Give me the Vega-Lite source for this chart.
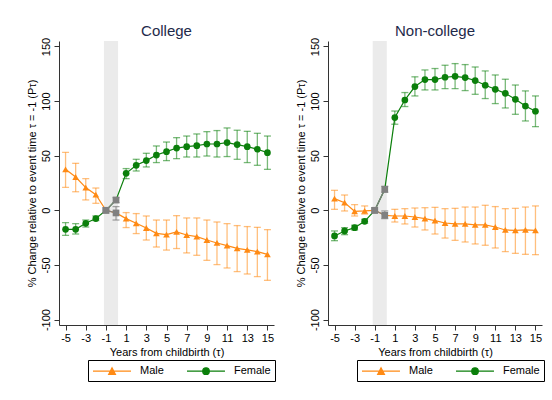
{
  "$schema": "https://vega.github.io/schema/vega-lite/v6.json",
  "padding": {"left": 25, "top": 24, "right": 5, "bottom": 5},
  "datasets": {
    "est": [
      {"panel": "College", "sex": "Male", "t": -5, "est": 37.5, "lo": 21, "hi": 53},
      {"panel": "College", "sex": "Male", "t": -4, "est": 30.5, "lo": 17, "hi": 43},
      {"panel": "College", "sex": "Male", "t": -3, "est": 20.8, "lo": 9.5, "hi": 29},
      {"panel": "College", "sex": "Male", "t": -2, "est": 14.3, "lo": 6.4, "hi": 20.4},
      {"panel": "College", "sex": "Male", "t": -1, "est": 0, "lo": 0, "hi": 0},
      {"panel": "College", "sex": "Male", "t": 0, "est": -2.4, "lo": -8.9, "hi": 3.4},
      {"panel": "College", "sex": "Male", "t": 1, "est": -7.6, "lo": -15.8, "hi": -2.1},
      {"panel": "College", "sex": "Male", "t": 2, "est": -11.9, "lo": -21.3, "hi": -3},
      {"panel": "College", "sex": "Male", "t": 3, "est": -16.2, "lo": -27.2, "hi": -5.2},
      {"panel": "College", "sex": "Male", "t": 4, "est": -21.1, "lo": -33.6, "hi": -8.9},
      {"panel": "College", "sex": "Male", "t": 5, "est": -22.3, "lo": -36.4, "hi": -8.9},
      {"panel": "College", "sex": "Male", "t": 6, "est": -19.8, "lo": -35, "hi": -4.9},
      {"panel": "College", "sex": "Male", "t": 7, "est": -22.6, "lo": -39, "hi": -7},
      {"panel": "College", "sex": "Male", "t": 8, "est": -24.1, "lo": -41.2, "hi": -7},
      {"panel": "College", "sex": "Male", "t": 9, "est": -27.2, "lo": -45.8, "hi": -8.9},
      {"panel": "College", "sex": "Male", "t": 10, "est": -29.9, "lo": -49.7, "hi": -10.7},
      {"panel": "College", "sex": "Male", "t": 11, "est": -32.4, "lo": -52.8, "hi": -12.2},
      {"panel": "College", "sex": "Male", "t": 12, "est": -34.8, "lo": -56.1, "hi": -14},
      {"panel": "College", "sex": "Male", "t": 13, "est": -36.3, "lo": -58.3, "hi": -14.9},
      {"panel": "College", "sex": "Male", "t": 14, "est": -37.8, "lo": -60.7, "hi": -15.6},
      {"panel": "College", "sex": "Male", "t": 15, "est": -40.3, "lo": -64.1, "hi": -17.7},
      {"panel": "College", "sex": "Female", "t": -5, "est": -17.4, "lo": -22.9, "hi": -11.3},
      {"panel": "College", "sex": "Female", "t": -4, "est": -17.4, "lo": -21.7, "hi": -12.2},
      {"panel": "College", "sex": "Female", "t": -3, "est": -11.9, "lo": -15.3, "hi": -8.9},
      {"panel": "College", "sex": "Female", "t": -2, "est": -7.6, "lo": -9.4, "hi": -5.2},
      {"panel": "College", "sex": "Female", "t": -1, "est": 0, "lo": 0, "hi": 0},
      {"panel": "College", "sex": "Female", "t": 0, "est": 9.5, "lo": 7, "hi": 11.6},
      {"panel": "College", "sex": "Female", "t": 1, "est": 33.9, "lo": 29, "hi": 38.2},
      {"panel": "College", "sex": "Female", "t": 2, "est": 41.2, "lo": 36, "hi": 46.7},
      {"panel": "College", "sex": "Female", "t": 3, "est": 45.5, "lo": 39.7, "hi": 52.2},
      {"panel": "College", "sex": "Female", "t": 4, "est": 50.6, "lo": 43.7, "hi": 58.9},
      {"panel": "College", "sex": "Female", "t": 5, "est": 53.7, "lo": 45.5, "hi": 62.5},
      {"panel": "College", "sex": "Female", "t": 6, "est": 57, "lo": 47.3, "hi": 66.5},
      {"panel": "College", "sex": "Female", "t": 7, "est": 58.3, "lo": 48.8, "hi": 68},
      {"panel": "College", "sex": "Female", "t": 8, "est": 59.2, "lo": 48.8, "hi": 69.9},
      {"panel": "College", "sex": "Female", "t": 9, "est": 60.7, "lo": 49.7, "hi": 72},
      {"panel": "College", "sex": "Female", "t": 10, "est": 60.7, "lo": 48.8, "hi": 73},
      {"panel": "College", "sex": "Female", "t": 11, "est": 62, "lo": 49.2, "hi": 75.4},
      {"panel": "College", "sex": "Female", "t": 12, "est": 60.2, "lo": 46.7, "hi": 73.3},
      {"panel": "College", "sex": "Female", "t": 13, "est": 58.3, "lo": 43.7, "hi": 72.3},
      {"panel": "College", "sex": "Female", "t": 14, "est": 55.9, "lo": 41.2, "hi": 70.5},
      {"panel": "College", "sex": "Female", "t": 15, "est": 52.8, "lo": 37.5, "hi": 68},
      {"panel": "Non-college", "sex": "Male", "t": -5, "est": 10.7, "lo": 0.9, "hi": 18.3},
      {"panel": "Non-college", "sex": "Male", "t": -4, "est": 7, "lo": -0.6, "hi": 14},
      {"panel": "Non-college", "sex": "Male", "t": -3, "est": -0.9, "lo": -5.2, "hi": 5.2},
      {"panel": "Non-college", "sex": "Male", "t": -2, "est": -0.6, "lo": -3.4, "hi": 4},
      {"panel": "Non-college", "sex": "Male", "t": -1, "est": 0, "lo": 0, "hi": 0},
      {"panel": "Non-college", "sex": "Male", "t": 0, "est": -4.6, "lo": -7.6, "hi": -0.6},
      {"panel": "Non-college", "sex": "Male", "t": 1, "est": -5.2, "lo": -10.7, "hi": 0.9},
      {"panel": "Non-college", "sex": "Male", "t": 2, "est": -5.2, "lo": -12.5, "hi": 1.5},
      {"panel": "Non-college", "sex": "Male", "t": 3, "est": -6.1, "lo": -15.3, "hi": 2.1},
      {"panel": "Non-college", "sex": "Male", "t": 4, "est": -7.6, "lo": -18, "hi": 2.4},
      {"panel": "Non-college", "sex": "Male", "t": 5, "est": -9.4, "lo": -21.7, "hi": 2.7},
      {"panel": "Non-college", "sex": "Male", "t": 6, "est": -11.6, "lo": -25.4, "hi": 1.5},
      {"panel": "Non-college", "sex": "Male", "t": 7, "est": -12.5, "lo": -27.5, "hi": 1.8},
      {"panel": "Non-college", "sex": "Male", "t": 8, "est": -12.5, "lo": -29, "hi": 3},
      {"panel": "Non-college", "sex": "Male", "t": 9, "est": -13.4, "lo": -30.8, "hi": 3},
      {"panel": "Non-college", "sex": "Male", "t": 10, "est": -13.4, "lo": -32, "hi": 4.6},
      {"panel": "Non-college", "sex": "Male", "t": 11, "est": -15.3, "lo": -34.5, "hi": 3.4},
      {"panel": "Non-college", "sex": "Male", "t": 12, "est": -18, "lo": -37.8, "hi": 1.5},
      {"panel": "Non-college", "sex": "Male", "t": 13, "est": -18.3, "lo": -39.4, "hi": 1.8},
      {"panel": "Non-college", "sex": "Male", "t": 14, "est": -18, "lo": -40.3, "hi": 3},
      {"panel": "Non-college", "sex": "Male", "t": 15, "est": -18.3, "lo": -40.6, "hi": 4},
      {"panel": "Non-college", "sex": "Female", "t": -5, "est": -23.5, "lo": -27.8, "hi": -18.9},
      {"panel": "Non-college", "sex": "Female", "t": -4, "est": -18.9, "lo": -22.3, "hi": -15.9},
      {"panel": "Non-college", "sex": "Female", "t": -3, "est": -15.9, "lo": -18, "hi": -13.7},
      {"panel": "Non-college", "sex": "Female", "t": -2, "est": -10.1, "lo": -11.9, "hi": -8.2},
      {"panel": "Non-college", "sex": "Female", "t": -1, "est": 0, "lo": 0, "hi": 0},
      {"panel": "Non-college", "sex": "Female", "t": 0, "est": 19.2, "lo": 16.5, "hi": 22},
      {"panel": "Non-college", "sex": "Female", "t": 1, "est": 84.9, "lo": 78.8, "hi": 90.9},
      {"panel": "Non-college", "sex": "Female", "t": 2, "est": 101, "lo": 95, "hi": 107.8},
      {"panel": "Non-college", "sex": "Female", "t": 3, "est": 113.3, "lo": 104.7, "hi": 122.2},
      {"panel": "Non-college", "sex": "Female", "t": 4, "est": 119.7, "lo": 110.2, "hi": 128.5},
      {"panel": "Non-college", "sex": "Female", "t": 5, "est": 119.7, "lo": 110.2, "hi": 129.8},
      {"panel": "Non-college", "sex": "Female", "t": 6, "est": 121.8, "lo": 111.4, "hi": 132.8},
      {"panel": "Non-college", "sex": "Female", "t": 7, "est": 122.7, "lo": 111.4, "hi": 134.3},
      {"panel": "Non-college", "sex": "Female", "t": 8, "est": 121.5, "lo": 109.6, "hi": 133.4},
      {"panel": "Non-college", "sex": "Female", "t": 9, "est": 118.8, "lo": 106.2, "hi": 131.2},
      {"panel": "Non-college", "sex": "Female", "t": 10, "est": 114.5, "lo": 102.3, "hi": 127.6},
      {"panel": "Non-college", "sex": "Female", "t": 11, "est": 110.8, "lo": 97.7, "hi": 123.9},
      {"panel": "Non-college", "sex": "Female", "t": 12, "est": 107.1, "lo": 93.7, "hi": 120},
      {"panel": "Non-college", "sex": "Female", "t": 13, "est": 101.6, "lo": 87.9, "hi": 114.7},
      {"panel": "Non-college", "sex": "Female", "t": 14, "est": 95.5, "lo": 81.8, "hi": 109.3},
      {"panel": "Non-college", "sex": "Female", "t": 15, "est": 90.7, "lo": 76.6, "hi": 104.7}
    ],
    "band": [{"t": -1.2, "t2": 0.2}]
  },
  "spacing": 18,
  "hconcat": [
    {
      "title": "College",
      "width": 215, "height": 284,
      "data": {"name": "est"},
      "transform": [{"filter": "datum.panel == 'College'"}],
      "encoding": {
        "x": {"field": "t", "type": "quantitative",
          "scale": {"domain": [-5.65, 15.65], "nice": false, "zero": false},
          "axis": {"values": [-5, -3, -1, 1, 3, 5, 7, 9, 11, 13, 15], "labelExpr": "toString(datum.value)", "title": "Years from childbirth (τ)", "grid": false}}
      },
      "layer": [
        {"data": {"name": "band"}, "mark": {"type": "rect", "color": "#ebebeb"},
          "encoding": {"x2": {"field": "t2"}, "y": {"datum": 155, "type": "quantitative"}, "y2": {"datum": -105}}},
        {"mark": {"type": "rule", "color": "#9a9a9a", "strokeDash": [7, 4], "strokeWidth": 1.3},
          "encoding": {"y": {"datum": 0, "type": "quantitative"}}},
        {"transform": [{"filter": "datum.t != -1 && datum.t != 0"}],
          "mark": {"type": "errorbar", "ticks": true, "size": 7, "thickness": 1.3, "opacity": 0.55},
          "encoding": {"y": {"field": "lo", "type": "quantitative", "title": "% Change relative to event time τ = -1 (Pτ)"}, "y2": {"field": "hi"},
            "color": {"field": "sex", "type": "nominal", "scale": {"domain": ["Male", "Female"], "range": ["#ff8a14", "#0b7f0b"]},
              "legend": {"orient": "none", "legendX": 29, "legendY": 319, "direction": "horizontal", "title": null, "strokeColor": "#000", "padding": 4, "symbolSize": 144, "symbolOpacity": 1, "symbolStrokeWidth": 1.2, "labelOffset": 34, "columnPadding": 20, "labelFontSize": 11, "labelColor": "#000"}}}},
        {"transform": [{"filter": "datum.t == 0"}],
          "mark": {"type": "errorbar", "ticks": true, "size": 7, "thickness": 1.3, "opacity": 0.7, "color": "#808080"},
          "encoding": {"y": {"field": "lo", "type": "quantitative", "title": "% Change relative to event time τ = -1 (Pτ)"}, "y2": {"field": "hi"}}},
        {"mark": {"type": "line", "strokeWidth": 1.2},
          "encoding": {"y": {"field": "est", "type": "quantitative", "title": "% Change relative to event time τ = -1 (Pτ)"},
            "color": {"field": "sex", "type": "nominal",
              "legend": {"orient": "none", "legendX": 29, "legendY": 319, "direction": "horizontal", "title": null, "strokeColor": "#000", "padding": 4, "symbolSize": 144, "symbolOpacity": 1, "symbolStrokeWidth": 1.2, "labelOffset": 34, "columnPadding": 20, "labelFontSize": 11, "labelColor": "#000"}},
            "detail": {"field": "sex"}}},
        {"transform": [{"filter": "datum.t >= -1 && datum.t <= 0"}],
          "mark": {"type": "line", "strokeWidth": 1.2, "color": "#808080"},
          "encoding": {"y": {"field": "est", "type": "quantitative", "title": "% Change relative to event time τ = -1 (Pτ)"}, "detail": {"field": "sex"}}},
        {"mark": {"type": "point", "filled": true, "opacity": 1, "size": 45},
          "encoding": {
            "y": {"field": "est", "type": "quantitative",
              "scale": {"domain": [-105, 155], "nice": false},
              "axis": {"values": [-100, -50, 0, 50, 100, 150], "labelExpr": "toString(datum.value)", "labelAngle": -90, "labelAlign": "center", "labelBaseline": "bottom", "labelPadding": 3},
              "title": "% Change relative to event time τ = -1 (Pτ)"},
            "shape": {"condition": [{"test": "datum.t == -1 || datum.t == 0", "value": "square"}, {"test": "datum.sex == 'Male'", "value": "triangle-up"}], "value": "circle"},
            "color": {"condition": {"test": "datum.t == -1 || datum.t == 0", "value": "#808080"},
              "field": "sex", "type": "nominal",
              "legend": {"orient": "none", "legendX": 29, "legendY": 319, "direction": "horizontal", "title": null, "strokeColor": "#000", "padding": 4, "symbolSize": 144, "symbolOpacity": 1, "symbolStrokeWidth": 1.2, "labelOffset": 34, "columnPadding": 20, "labelFontSize": 11, "labelColor": "#000"}}
          }},
        {"transform": [{"filter": "false"}],
          "mark": {"type": "point", "filled": true},
          "encoding": {
            "color": {"field": "sex", "type": "nominal",
              "legend": {"orient": "none", "legendX": 29, "legendY": 319, "direction": "horizontal", "title": null, "strokeColor": "#000", "padding": 4, "symbolSize": 144, "symbolOpacity": 1, "symbolStrokeWidth": 1.2, "labelOffset": 34, "columnPadding": 20, "labelFontSize": 11, "labelColor": "#000"}},
            "shape": {"field": "sex", "type": "nominal",
              "scale": {"domain": ["Male", "Female"], "range": ["M-1,0H5.33M1.6,0.55L2.17,-0.55L2.74,0.55Z", "M-1,0H5.33M1.62,0A0.55,0.55 0 1,0 2.72,0A0.55,0.55 0 1,0 1.62,0Z"]},
              "legend": {"orient": "none", "legendX": 29, "legendY": 319, "direction": "horizontal", "title": null, "strokeColor": "#000", "padding": 4, "symbolSize": 144, "symbolOpacity": 1, "symbolStrokeWidth": 1.2, "labelOffset": 34, "columnPadding": 20, "labelFontSize": 11, "labelColor": "#000"}}
          }}
      ]
    },
    {
      "title": "Non-college",
      "width": 214, "height": 284,
      "data": {"name": "est"},
      "transform": [{"filter": "datum.panel == 'Non-college'"}],
      "encoding": {
        "x": {"field": "t", "type": "quantitative",
          "scale": {"domain": [-5.65, 15.65], "nice": false, "zero": false},
          "axis": {"values": [-5, -3, -1, 1, 3, 5, 7, 9, 11, 13, 15], "labelExpr": "toString(datum.value)", "title": "Years from childbirth (τ)", "grid": false}}
      },
      "layer": [
        {"data": {"name": "band"}, "mark": {"type": "rect", "color": "#ebebeb"},
          "encoding": {"x2": {"field": "t2"}, "y": {"datum": 155, "type": "quantitative"}, "y2": {"datum": -105}}},
        {"mark": {"type": "rule", "color": "#9a9a9a", "strokeDash": [7, 4], "strokeWidth": 1.3},
          "encoding": {"y": {"datum": 0, "type": "quantitative"}}},
        {"transform": [{"filter": "datum.t != -1 && datum.t != 0"}],
          "mark": {"type": "errorbar", "ticks": true, "size": 7, "thickness": 1.3, "opacity": 0.55},
          "encoding": {"y": {"field": "lo", "type": "quantitative", "title": "% Change relative to event time τ = -1 (Pτ)"}, "y2": {"field": "hi"},
            "color": {"field": "sex", "type": "nominal", "scale": {"domain": ["Male", "Female"], "range": ["#ff8a14", "#0b7f0b"]},
              "legend": {"orient": "none", "legendX": 29, "legendY": 319, "direction": "horizontal", "title": null, "strokeColor": "#000", "padding": 4, "symbolSize": 144, "symbolOpacity": 1, "symbolStrokeWidth": 1.2, "labelOffset": 34, "columnPadding": 20, "labelFontSize": 11, "labelColor": "#000"}}}},
        {"transform": [{"filter": "datum.t == 0"}],
          "mark": {"type": "errorbar", "ticks": true, "size": 7, "thickness": 1.3, "opacity": 0.7, "color": "#808080"},
          "encoding": {"y": {"field": "lo", "type": "quantitative", "title": "% Change relative to event time τ = -1 (Pτ)"}, "y2": {"field": "hi"}}},
        {"mark": {"type": "line", "strokeWidth": 1.2},
          "encoding": {"y": {"field": "est", "type": "quantitative", "title": "% Change relative to event time τ = -1 (Pτ)"},
            "color": {"field": "sex", "type": "nominal",
              "legend": {"orient": "none", "legendX": 29, "legendY": 319, "direction": "horizontal", "title": null, "strokeColor": "#000", "padding": 4, "symbolSize": 144, "symbolOpacity": 1, "symbolStrokeWidth": 1.2, "labelOffset": 34, "columnPadding": 20, "labelFontSize": 11, "labelColor": "#000"}},
            "detail": {"field": "sex"}}},
        {"transform": [{"filter": "datum.t >= -1 && datum.t <= 0"}],
          "mark": {"type": "line", "strokeWidth": 1.2, "color": "#808080"},
          "encoding": {"y": {"field": "est", "type": "quantitative", "title": "% Change relative to event time τ = -1 (Pτ)"}, "detail": {"field": "sex"}}},
        {"mark": {"type": "point", "filled": true, "opacity": 1, "size": 45},
          "encoding": {
            "y": {"field": "est", "type": "quantitative",
              "scale": {"domain": [-105, 155], "nice": false},
              "axis": {"values": [-100, -50, 0, 50, 100, 150], "labelExpr": "toString(datum.value)", "labelAngle": -90, "labelAlign": "center", "labelBaseline": "bottom", "labelPadding": 3},
              "title": "% Change relative to event time τ = -1 (Pτ)"},
            "shape": {"condition": [{"test": "datum.t == -1 || datum.t == 0", "value": "square"}, {"test": "datum.sex == 'Male'", "value": "triangle-up"}], "value": "circle"},
            "color": {"condition": {"test": "datum.t == -1 || datum.t == 0", "value": "#808080"},
              "field": "sex", "type": "nominal",
              "legend": {"orient": "none", "legendX": 29, "legendY": 319, "direction": "horizontal", "title": null, "strokeColor": "#000", "padding": 4, "symbolSize": 144, "symbolOpacity": 1, "symbolStrokeWidth": 1.2, "labelOffset": 34, "columnPadding": 20, "labelFontSize": 11, "labelColor": "#000"}}
          }},
        {"transform": [{"filter": "false"}],
          "mark": {"type": "point", "filled": true},
          "encoding": {
            "color": {"field": "sex", "type": "nominal",
              "legend": {"orient": "none", "legendX": 29, "legendY": 319, "direction": "horizontal", "title": null, "strokeColor": "#000", "padding": 4, "symbolSize": 144, "symbolOpacity": 1, "symbolStrokeWidth": 1.2, "labelOffset": 34, "columnPadding": 20, "labelFontSize": 11, "labelColor": "#000"}},
            "shape": {"field": "sex", "type": "nominal",
              "scale": {"domain": ["Male", "Female"], "range": ["M-1,0H5.33M1.6,0.55L2.17,-0.55L2.74,0.55Z", "M-1,0H5.33M1.62,0A0.55,0.55 0 1,0 2.72,0A0.55,0.55 0 1,0 1.62,0Z"]},
              "legend": {"orient": "none", "legendX": 29, "legendY": 319, "direction": "horizontal", "title": null, "strokeColor": "#000", "padding": 4, "symbolSize": 144, "symbolOpacity": 1, "symbolStrokeWidth": 1.2, "labelOffset": 34, "columnPadding": 20, "labelFontSize": 11, "labelColor": "#000"}}
          }}
      ]
    }
  ],
  "resolve": {"scale": {"color": "independent", "shape": "independent", "x": "independent", "y": "independent"}, "legend": {"color": "independent", "shape": "independent"}},
  "config": {
    "font": "Liberation Sans",
    "view": {"stroke": null},
    "title": {"fontSize": 15, "fontWeight": "normal", "color": "#1e2a4a", "anchor": "middle", "frame": "group", "offset": -2},
    "axis": {"domainColor": "#333333", "tickColor": "#333333", "labelColor": "#000000", "titleColor": "#000000",
      "labelFontSize": 11, "titleFontSize": 11, "titleFontWeight": "normal", "gridColor": "#e4eced", "tickSize": 5, "labelPadding": 2, "titlePadding": 3}
  }
}
